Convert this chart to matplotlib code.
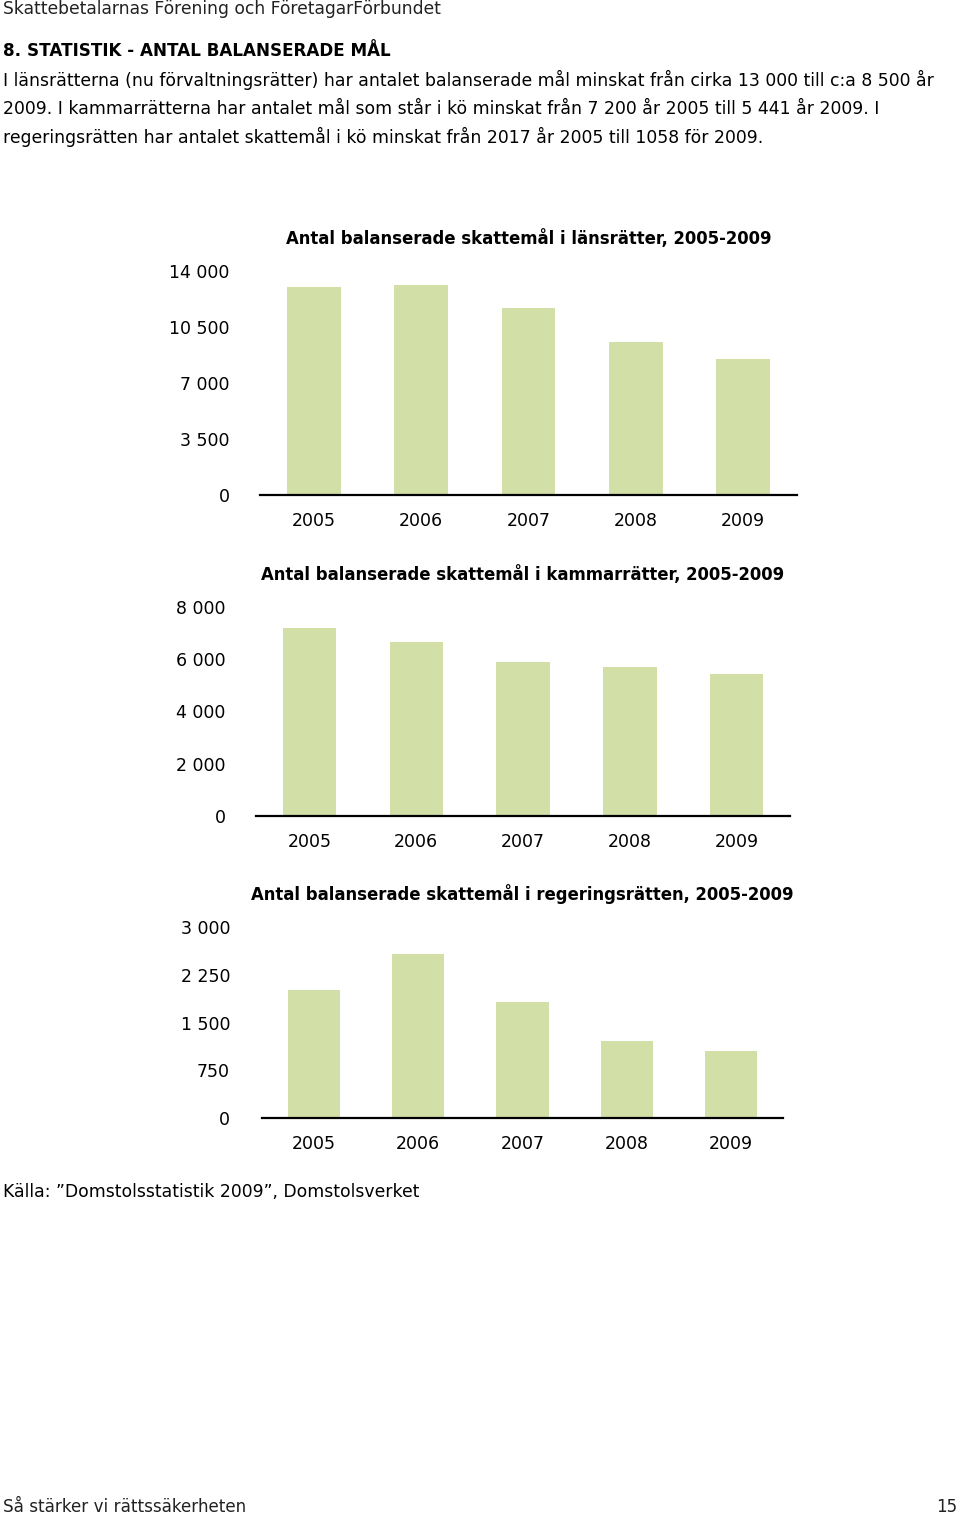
import matplotlib.pyplot as plt

# data
years = ["2005", "2006", "2007", "2008", "2009"]
lansratter = [13000, 13125, 11690, 9560, 8500]
kammarratter = [7200, 6660, 5900, 5700, 5441]
regeringsratten = [2017, 2576, 1822, 1210, 1058]

ticks_lans = [0, 3500, 7000, 10500, 14000]
ticks_kammar = [0, 2000, 4000, 6000, 8000]
ticks_reg = [0, 750, 1500, 2250, 3000]

titles = [
    "Antal balanserade skattemål i länsrätter, 2005-2009",
    "Antal balanserade skattemål i kammarrätter, 2005-2009",
    "Antal balanserade skattemål i regeringsrätten, 2005-2009",
]

BAR_COLOR = "#d2dfa6"
W, H = 960, 1518
FS = 12.4

plt.rcParams["font.family"] = ["DejaVu Sans"]

fig = plt.figure(figsize=(W / 100, H / 100), dpi=100)


def fmt(v):
    return f"{v:,}".replace(",", " ")


def px_axes(x0, x1, ybot, ytop):
    return fig.add_axes([x0 / W, 1 - ybot / H, (x1 - x0) / W, (ybot - ytop) / H])


def bar_chart(ax, values, ticks, title, ypad):
    ax.bar(range(len(years)), values, width=0.5, color=BAR_COLOR)
    ax.set_xlim(-0.5, len(years) - 0.5)
    ax.set_ylim(0, ticks[-1])
    ax.set_yticks(ticks)
    ax.set_yticklabels([fmt(t) for t in ticks])
    ax.set_xticks(range(len(years)))
    ax.set_xticklabels(years)
    ax.tick_params(axis="y", length=0, pad=ypad, labelsize=12.5)
    ax.tick_params(axis="x", length=0, pad=12.5, labelsize=12.5)
    for s in ["top", "right", "left"]:
        ax.spines[s].set_visible(False)
    ax.spines["bottom"].set_linewidth(1.6)
    ax.spines["bottom"].set_color("black")
    ax.set_title(title, fontsize=11.9, fontweight="bold", pad=19.5)


ax1 = px_axes(260, 797, 495, 271)
bar_chart(ax1, lansratter, ticks_lans, titles[0], 22)
ax2 = px_axes(256, 790, 816, 607)
bar_chart(ax2, kammarratter, ticks_kammar, titles[1], 22)
ax3 = px_axes(262, 783, 1118, 927)
bar_chart(ax3, regeringsratten, ticks_reg, titles[2], 23)

# page text
def t(x, y, s, **kw):
    fig.text(x / W, 1 - y / H, s, va="center", **kw)

t(3, 9, "Skattebetalarnas Förening och FöretagarFörbundet", fontsize=12.3, color="#222222")
t(3, 51, "8. STATISTIK - ANTAL BALANSERADE MÅL", fontsize=12.1, fontweight="bold")
t(3, 80, "I länsrätterna (nu förvaltningsrätter) har antalet balanserade mål minskat från cirka 13 000 till c:a 8 500 år", fontsize=FS)
t(3, 109, "2009. I kammarrätterna har antalet mål som står i kö minskat från 7 200 år 2005 till 5 441 år 2009. I", fontsize=FS)
t(3, 137, "regeringsrätten har antalet skattemål i kö minskat från 2017 år 2005 till 1058 för 2009.", fontsize=FS)
t(3, 1192, "Källa: ”Domstolsstatistik 2009”, Domstolsverket", fontsize=FS)
t(3, 1507, "Så stärker vi rättssäkerheten", fontsize=12.1, color="#222222")
fig.text(957 / W, 1 - 1507 / H, "15", va="center", ha="right", fontsize=12.1, color="#222222")

fig.savefig("out.png", dpi=100)
